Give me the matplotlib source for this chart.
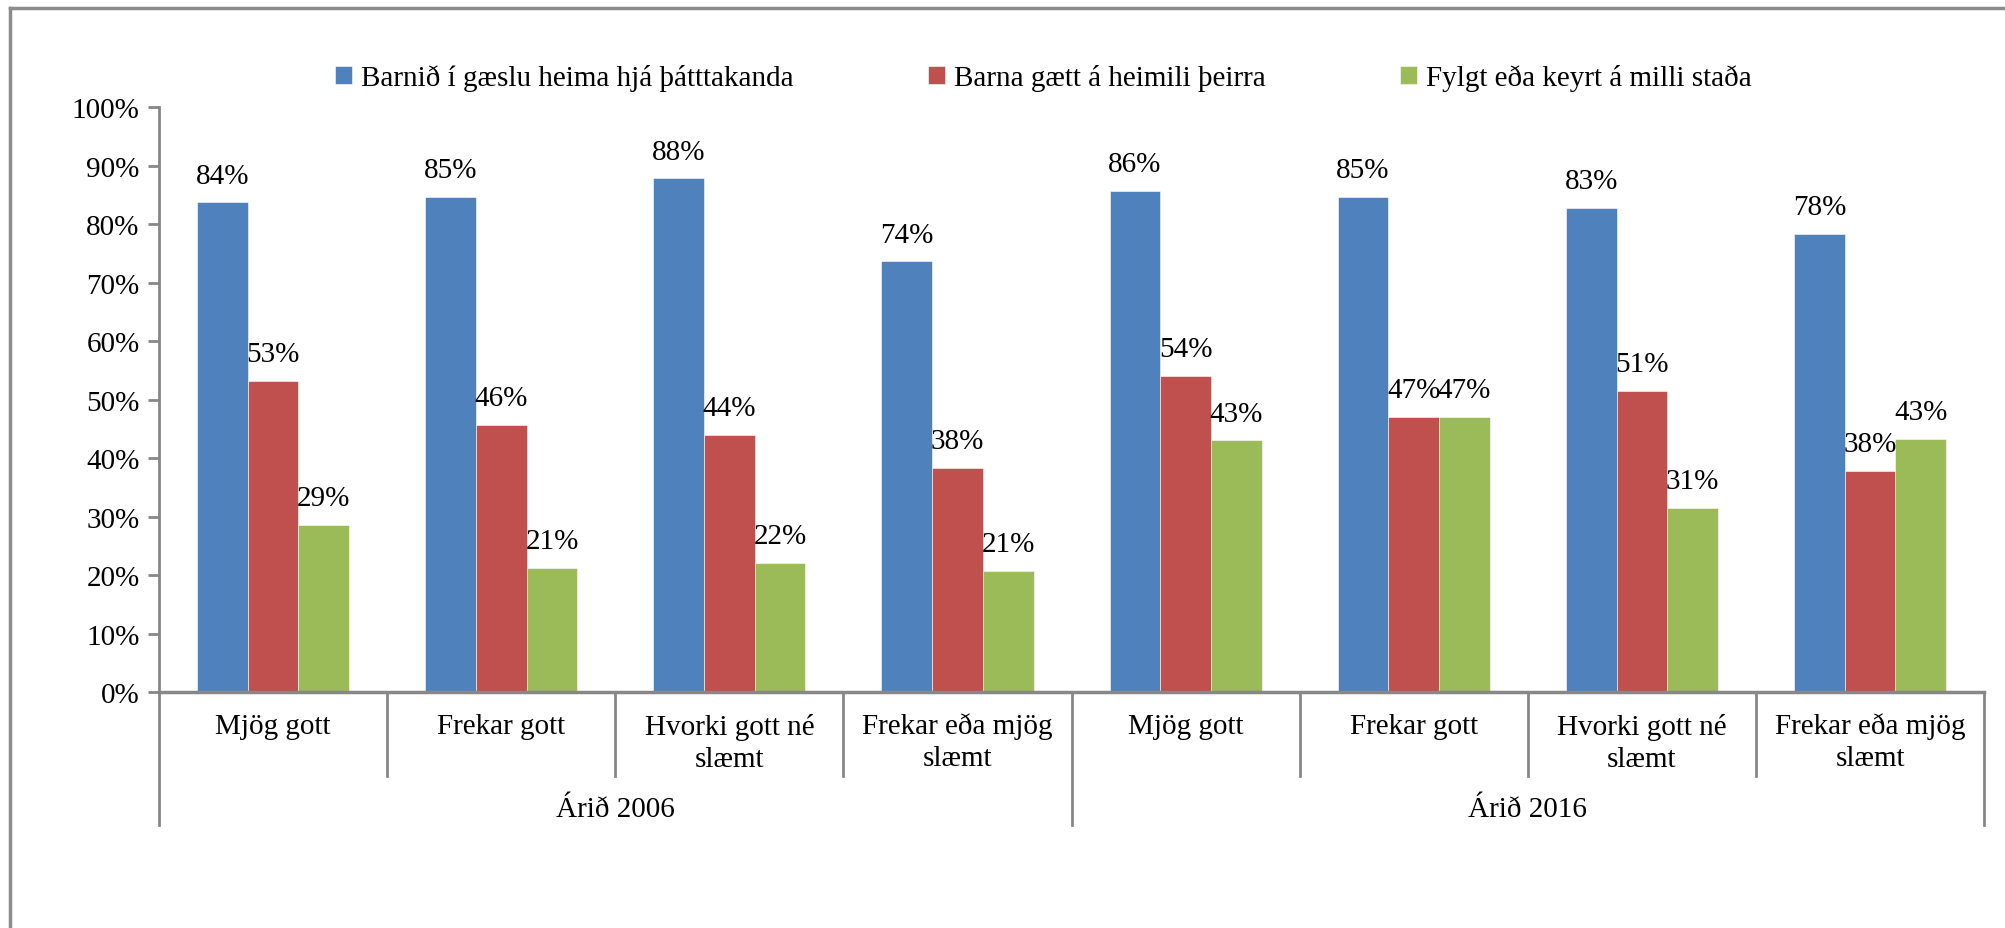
import numpy as np
import matplotlib.pyplot as plt
from matplotlib.lines import Line2D
import matplotlib.transforms as mtransforms

plt.rcParams['font.family'] = ['Liberation Serif', 'DejaVu Serif']

groups = ["Árið 2006", "Árið 2016"]
categories = ["Mjög gott", "Frekar gott", "Hvorki gott né\nslæmt", "Frekar eða mjög\nslæmt"] * 2
series = ["Barnið í gæslu heima hjá þátttakanda", "Barna gætt á heimili þeirra", "Fylgt eða keyrt á milli staða"]
barnid = [83.7, 84.6, 87.8, 73.6, 85.6, 84.6, 82.8, 78.3]
heima = [53.2, 45.7, 43.9, 38.3, 54.1, 47.0, 51.4, 37.8]
fylgt = [28.6, 21.2, 22.0, 20.7, 43.0, 47.0, 31.4, 43.3]
colors = ["#4F81BD", "#C0504D", "#9BBB59"]
yticks = np.arange(0, 101, 10)

axis_gray = "#878787"
fs = 21

fig = plt.figure(figsize=(20.06, 9.29), dpi=100)
ax = fig.add_axes([0.0793, 0.254, 0.9098, 0.6297])

n = len(categories)
x = np.arange(n)
w = 1 / 4.5
for i, (vals, col, lab) in enumerate(zip([barnid, heima, fylgt], colors, series)):
    bars = ax.bar(x + (i - 1) * w, vals, width=w, color=col, label=lab,
                  edgecolor="white", linewidth=0.4)
    for b, v in zip(bars, vals):
        ax.annotate(f"{round(v):d}%", (b.get_x() + b.get_width() / 2, v),
                    xytext=(0, 10), textcoords="offset points",
                    ha="center", va="bottom", fontsize=fs)

ax.set_xlim(-0.5, n - 0.5)
ax.set_ylim(0, 100)
ax.set_yticks(yticks)
ax.set_yticklabels([f"{t}%" for t in yticks], fontsize=fs)
ax.tick_params(axis="y", length=8, width=2, color=axis_gray, pad=6)
ax.set_xticks([])
for s in ["top", "right"]:
    ax.spines[s].set_visible(False)
ax.spines["left"].set_color(axis_gray)
ax.spines["left"].set_linewidth(2)
ax.spines["bottom"].set_color(axis_gray)
ax.spines["bottom"].set_linewidth(2.5)

# two-level category axis
trans = mtransforms.blended_transform_factory(ax.transData, ax.transAxes)
cat_bottom = -0.143
grp_bottom = -0.228
for i, c in enumerate(categories):
    ax.text(i, -0.035, c, transform=trans, ha="center", va="top",
            fontsize=fs, linespacing=1.3)
for k in range(n + 1):
    xb = k - 0.5
    yb = grp_bottom if k % 4 == 0 else cat_bottom
    ax.add_line(Line2D([xb, xb], [0, yb], transform=trans, color=axis_gray,
                       lw=2, clip_on=False))
for g, name in enumerate(groups):
    ax.text(g * 4 + 1.5, -0.2, name, transform=trans, ha="center",
            va="center", fontsize=fs)

fig.legend(loc="center", bbox_to_anchor=(0.52, 0.915), ncol=3, frameon=False,
           fontsize=fs, handlelength=0.6, handleheight=0.6, handletextpad=0.3,
           columnspacing=4.6)

# outer chart frame
fig.add_artist(Line2D([0.005, 1.0], [0.99, 0.99], transform=fig.transFigure,
                      color="#8c8c8c", lw=2.5))
fig.add_artist(Line2D([0.005, 0.005], [0.0, 0.99], transform=fig.transFigure,
                      color="#8c8c8c", lw=2.5))

fig.savefig("out.png", dpi=100)
